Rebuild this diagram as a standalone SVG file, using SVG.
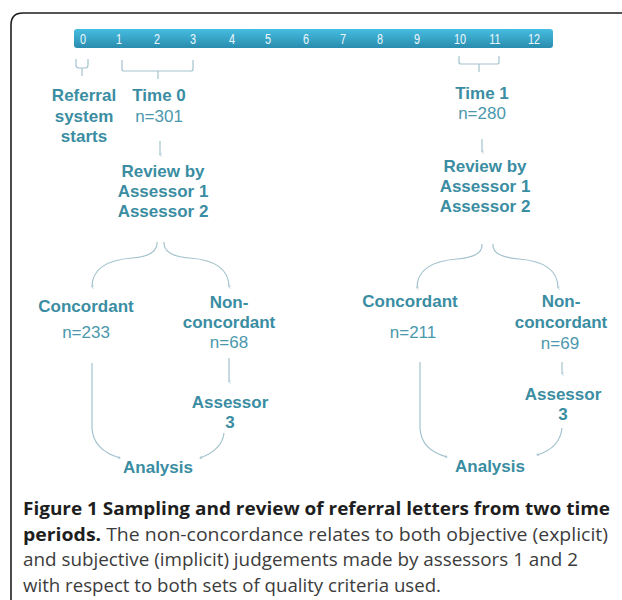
<svg xmlns="http://www.w3.org/2000/svg" width="622" height="600" viewBox="0 0 622 600">
<defs>
<linearGradient id="bar" x1="0" y1="0" x2="0" y2="1">
<stop offset="0" stop-color="#45bde0"/>
<stop offset="1" stop-color="#2a8cae"/>
</linearGradient>
<marker id="ah" viewBox="0 0 6 6" refX="3" refY="5" markerWidth="4" markerHeight="4" orient="auto-start-reverse" markerUnits="userSpaceOnUse">
<path d="M0.5,2 L3,5.5 L5.5,2" fill="none" stroke="#9dbfcb" stroke-width="0.8"/>
</marker>
<marker id="ahs" viewBox="0 0 6 6" refX="5" refY="3" markerWidth="4" markerHeight="4" orient="auto" markerUnits="userSpaceOnUse">
<path d="M2,0.5 L5.5,3 L2,5.5" fill="none" stroke="#9dbfcb" stroke-width="0.8"/>
</marker>
</defs>
<style>
.b{font-family:"Liberation Sans",Arial,sans-serif;font-weight:bold;font-size:17px;fill:#3a8da2;text-anchor:middle}
.n{font-family:"Liberation Sans",Arial,sans-serif;font-size:17px;fill:#4b98ac;text-anchor:middle}
.t{font-family:"Liberation Sans",Arial,sans-serif;font-size:14.5px;fill:#eef8fc;text-anchor:middle}
.c{fill:none;stroke:#a3c3ce;stroke-width:1.2}
.cap{font-family:"Open Sans","Noto Sans",sans-serif;font-size:17.5px;fill:#3c3c3c}
.capb{font-weight:bold;fill:#1e1e1e}
</style>
<rect width="622" height="600" fill="#fff"/>
<path d="M11,620 L11,25 Q11,13 23,13 L640,13" fill="none" stroke="#1e1e1e" stroke-width="1.6"/>

<g id="timeline">
<rect x="74" y="29" width="479" height="19" rx="3" fill="url(#bar)"/>
<g class="t" transform="scale(0.75 1)">
<text x="110.7" y="44">0</text><text x="158.7" y="44">1</text><text x="209.3" y="44">2</text>
<text x="257.3" y="44">3</text><text x="309.3" y="44">4</text><text x="357.3" y="44">5</text>
<text x="408" y="44">6</text><text x="457.3" y="44">7</text><text x="506.7" y="44">8</text>
<text x="556" y="44">9</text><text x="613.3" y="44">10</text><text x="660" y="44">11</text>
<text x="712" y="44">12</text>
</g>
</g>

<g id="connectors">
<path class="c" d="M76,59 L76,65 Q76,68 79,68 L85,68 Q88,68 88,65 L88,59 M82,68 L82,76"/>
<path class="c" d="M122,60 L122,69 Q122,71 124,71 L191,71 Q193,71 193,69 L193,60 M158,71 L158,79"/>
<path class="c" d="M459,56 L459,62 Q459,64 461,64 L497,64 Q499,64 499,62 L499,56 M479,64 L479,72"/>
<path class="c" d="M160,141 L160,155" marker-end="url(#ah)"/>
<path class="c" d="M482,139 L482,152" marker-end="url(#ah)"/>
<path class="c" d="M157,242 Q158,256 132,258 Q92,261 92,287" marker-end="url(#ah)"/>
<path class="c" d="M164,242 Q163,256 190,258 Q229,261 229,287" marker-end="url(#ah)"/>
<path class="c" d="M229,358 L229,382" marker-end="url(#ah)"/>
<path class="c" d="M92,363 L92,428 Q93,450 120,458" marker-end="url(#ahs)"/>
<path class="c" d="M224,433 Q222,450 200,458" marker-end="url(#ahs)"/>
<path class="c" d="M482,244 Q483,257 457,259 Q417,262 417,288" marker-end="url(#ah)"/>
<path class="c" d="M493,244 Q492,257 519,259 Q558,262 558,288" marker-end="url(#ah)"/>
<path class="c" d="M562,362 L562,374" marker-end="url(#ah)"/>
<path class="c" d="M420,362 L420,428 Q421,450 447,457" marker-end="url(#ahs)"/>
<path class="c" d="M562,428 Q560,448 537,455" marker-end="url(#ahs)"/>
</g>

<g id="referral">
<text class="b" x="84" y="101">Referral</text>
<text class="b" x="84" y="122">system</text>
<text class="b" x="84" y="142">starts</text>
</g>
<g id="time0">
<text class="b" x="159" y="101">Time 0</text>
<text class="n" x="159" y="122">n=301</text>
</g>
<g id="review0">
<text class="b" x="163" y="177">Review by</text>
<text class="b" x="163" y="197">Assessor 1</text>
<text class="b" x="163" y="217">Assessor 2</text>
</g>
<g id="conc0">
<text class="b" x="86" y="312">Concordant</text>
<text class="n" x="86" y="338">n=233</text>
</g>
<g id="nonconc0">
<text class="b" x="229" y="308">Non-</text>
<text class="b" x="229" y="328">concordant</text>
<text class="n" x="229" y="348">n=68</text>
</g>
<g id="assessor3a">
<text class="b" x="230" y="408">Assessor</text>
<text class="b" x="230" y="428">3</text>
</g>
<g id="analysis0">
<text class="b" x="158" y="473">Analysis</text>
</g>

<g id="time1">
<text class="b" x="482" y="99">Time 1</text>
<text class="n" x="482" y="119">n=280</text>
</g>
<g id="review1">
<text class="b" x="485" y="172">Review by</text>
<text class="b" x="485" y="192">Assessor 1</text>
<text class="b" x="485" y="212">Assessor 2</text>
</g>
<g id="conc1">
<text class="b" x="410" y="307">Concordant</text>
<text class="n" x="413" y="338">n=211</text>
</g>
<g id="nonconc1">
<text class="b" x="561" y="307">Non-</text>
<text class="b" x="561" y="328">concordant</text>
<text class="n" x="560" y="349">n=69</text>
</g>
<g id="assessor3b">
<text class="b" x="563" y="400">Assessor</text>
<text class="b" x="563" y="420">3</text>
</g>
<g id="analysis1">
<text class="b" x="490" y="472">Analysis</text>
</g>

<g id="caption" class="cap">
<text x="23" y="515" class="capb" textLength="587" lengthAdjust="spacingAndGlyphs">Figure 1 Sampling and review of referral letters from two time</text>
<text x="23" y="541" textLength="585" lengthAdjust="spacingAndGlyphs"><tspan class="capb">periods.</tspan> The non-concordance relates to both objective (explicit)</text>
<text x="23" y="566" textLength="555" lengthAdjust="spacingAndGlyphs">and subjective (implicit) judgements made by assessors 1 and 2</text>
<text x="23" y="592" textLength="418" lengthAdjust="spacingAndGlyphs">with respect to both sets of quality criteria used.</text>
</g>
</svg>
